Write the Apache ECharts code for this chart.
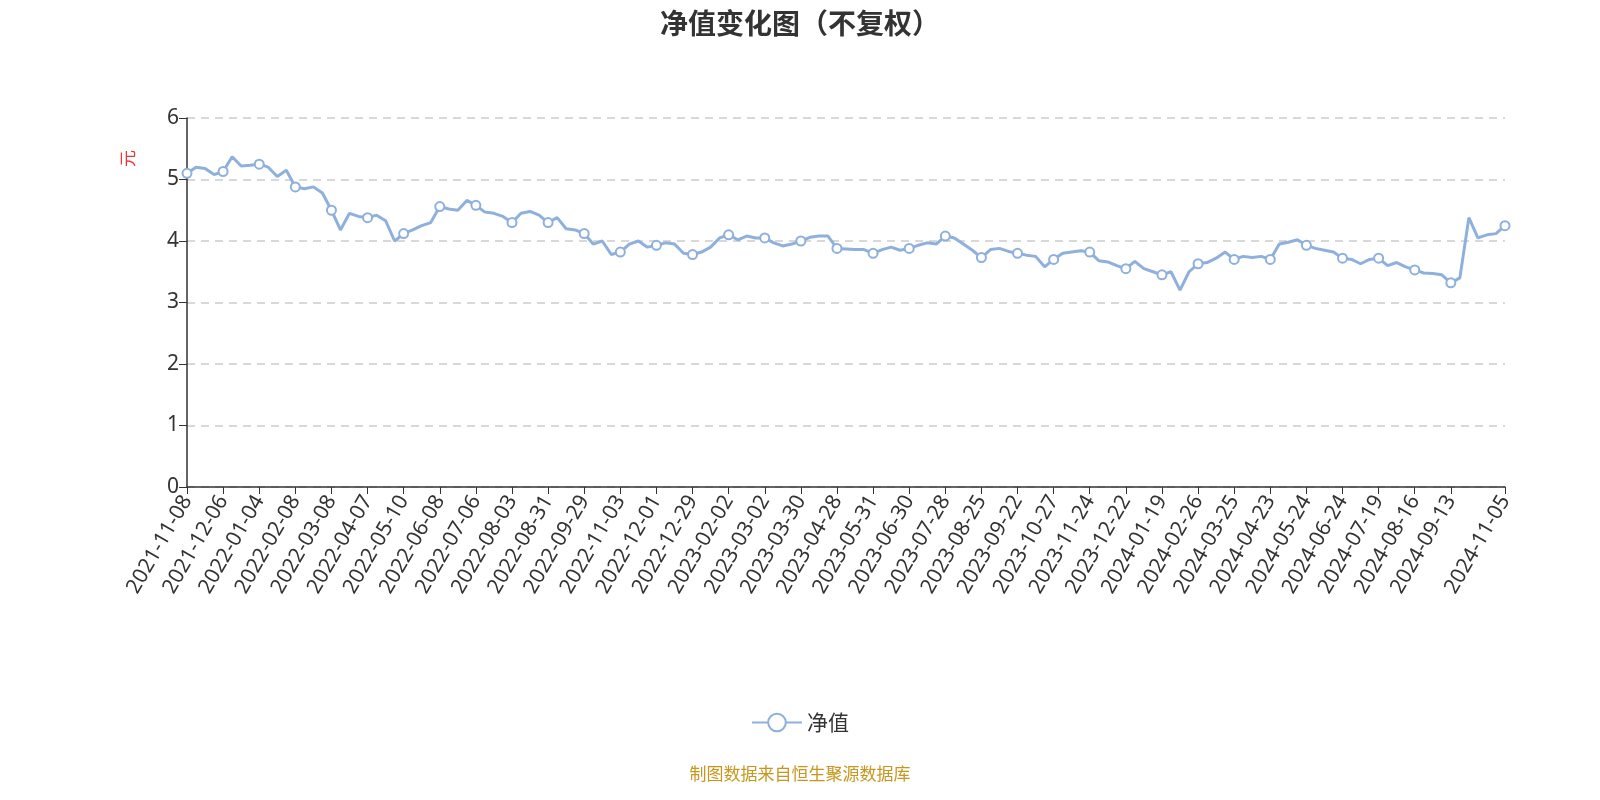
<!DOCTYPE html>
<html>
<head>
<meta charset="utf-8">
<script src="https://cdn.jsdelivr.net/npm/echarts@6/dist/echarts.min.js"></script>
<style>html,body{margin:0;padding:0;background:#fff}#chart{width:1600px;height:800px}</style>
</head>
<body>
<div id="chart"></div>
<script>
// 轴上标注的日期
const tickDates = [
  "2021-11-08","2021-12-06","2022-01-04","2022-02-08","2022-03-08","2022-04-07","2022-05-10",
  "2022-06-08","2022-07-06","2022-08-03","2022-08-31","2022-09-29","2022-11-03","2022-12-01",
  "2022-12-29","2023-02-02","2023-03-02","2023-03-30","2023-04-28","2023-05-31","2023-06-30",
  "2023-07-28","2023-08-25","2023-09-22","2023-10-27","2023-11-24","2023-12-22","2024-01-19",
  "2024-02-26","2024-03-25","2024-04-23","2024-05-24","2024-06-24","2024-07-19","2024-08-16",
  "2024-09-13","2024-11-05"
];
// 净值
const navValues = [
  5.10,5.20,5.18,5.08, 5.13,5.37,5.22,5.23, 5.25,5.20,5.05,5.15, 4.88,4.85,4.88,4.78,
  4.50,4.18,4.45,4.40, 4.38,4.42,4.33,4.00, 4.12,4.18,4.25,4.30, 4.56,4.52,4.50,4.66,
  4.58,4.47,4.45,4.40, 4.30,4.45,4.48,4.42, 4.30,4.38,4.20,4.18, 4.12,3.95,4.00,3.78,
  3.82,3.95,4.00,3.90, 3.93,3.97,3.95,3.80, 3.78,3.82,3.90,4.05, 4.10,4.02,4.08,4.05,
  4.05,3.97,3.92,3.95, 4.00,4.06,4.08,4.08, 3.88,3.87,3.86,3.86, 3.80,3.86,3.90,3.85,
  3.88,3.93,3.97,3.95, 4.08,4.05,3.95,3.85, 3.73,3.86,3.88,3.83, 3.80,3.77,3.75,3.58,
  3.70,3.80,3.82,3.84, 3.82,3.68,3.66,3.60, 3.55,3.67,3.55,3.50, 3.45,3.50,3.20,3.50,
  3.63,3.65,3.72,3.82, 3.70,3.75,3.73,3.75, 3.70,3.95,3.98,4.02, 3.93,3.88,3.85,3.82,
  3.72,3.70,3.63,3.70, 3.72,3.60,3.65,3.58, 3.53,3.48,3.47,3.45,
  3.32,3.40,4.38,4.05,4.10,4.12,4.25
];

// 构建类目：标注日期之间补充中间日期
const categories = [];
const labelIdx = new Set();
for (let i = 0; i < tickDates.length - 1; i++) {
  labelIdx.add(categories.length);
  categories.push(tickDates[i]);
  const steps = i === tickDates.length - 2 ? 6 : 4;
  const a = new Date(tickDates[i]), b = new Date(tickDates[i + 1]);
  for (let k = 1; k < steps; k++) {
    const d = new Date(a.getTime() + (b - a) * k / steps);
    categories.push(d.toISOString().slice(0, 10));
  }
}
labelIdx.add(categories.length);
categories.push(tickDates[tickDates.length - 1]);

const seriesData = navValues.map((v, i) => ({
  value: v,
  symbol: labelIdx.has(i) ? "emptyCircle" : "none"
}));

const chart = echarts.init(document.getElementById("chart"));
chart.setOption({
  animation: false,
  title: {
    text: "净值变化图（不复权）",
    left: "center", top: 4,
    textStyle: { fontSize: 28, fontWeight: "bold", color: "#333", fontFamily: "Noto Sans CJK SC" }
  },
  grid: { left: 187, right: 95, top: 118, bottom: 313 },
  legend: {
    bottom: 62, left: "center",
    itemWidth: 50, itemHeight: 22,
    textStyle: { fontSize: 21, color: "#333", fontFamily: "Noto Sans CJK SC" },
    data: ["净值"]
  },
  graphic: [{
    type: "text", left: "center", bottom: 18,
    style: { text: "制图数据来自恒生聚源数据库", fontSize: 17, fill: "#c8961e", fontFamily: "Noto Sans CJK SC" }
  }, {
    type: "text", x: 119, y: 167, rotation: Math.PI / 2,
    style: { text: "元", fontSize: 17, fill: "#e33", fontFamily: "Noto Sans CJK SC" }
  }],
  xAxis: {
    type: "category",
    data: categories,
    boundaryGap: false,
    axisLine: { lineStyle: { color: "#333", width: 1.5 } },
    axisTick: { interval: (i) => labelIdx.has(i), length: 7, lineStyle: { color: "#333" } },
    axisLabel: {
      interval: (i) => labelIdx.has(i),
      rotate: 60, fontSize: 21, color: "#333", margin: 10,
      fontFamily: "Noto Sans"
    }
  },
  yAxis: {
    type: "value", min: 0, max: 6, interval: 1,
    axisLine: { show: true, lineStyle: { color: "#333", width: 1.5 } },
    axisTick: { show: true, length: 8 },
    axisLabel: { fontSize: 21, color: "#333", fontFamily: "Noto Sans" },
    splitLine: { lineStyle: { type: [8, 6], color: "#ccc", width: 1.5 } }
  },
  series: [{
    name: "净值",
    type: "line",
    data: seriesData,
    symbolSize: 9,
    showAllSymbol: true,
    itemStyle: { color: "#8eb0dd", borderColor: "#8eb0dd", borderWidth: 1.5 },
    lineStyle: { color: "#8eb0dd", width: 3 },
    emphasis: { disabled: true }
  }]
});
</script>
</body>
</html>
